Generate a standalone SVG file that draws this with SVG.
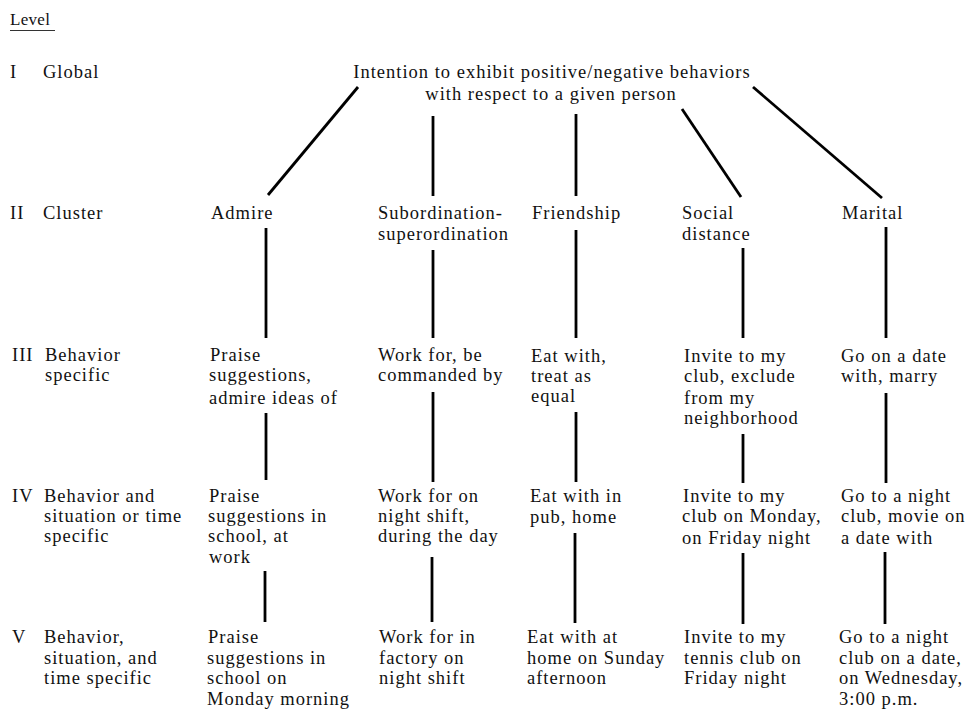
<svg xmlns="http://www.w3.org/2000/svg" width="967" height="709" viewBox="0 0 967 709">
<style>
text { font-family: "Liberation Serif", "Times New Roman", serif; font-size: 18.5px; letter-spacing: 1px; fill: #111; }
.c line { stroke: #000; stroke-width: 2.8; stroke-linecap: butt; }
</style>
<rect width="967" height="709" fill="#fff"/>
<g id="level-labels">
  <text x="10" y="25" style="font-size:17px;letter-spacing:0.3px">Level</text>
  <line x1="10" y1="30.5" x2="55" y2="30.5" stroke="#333" stroke-width="1"/>
  <text x="10" y="78">I</text><text x="43" y="78">Global</text>
  <text x="10" y="219">II</text><text x="43" y="219">Cluster</text>
  <text x="12" y="361">III</text><text x="45" y="361">Behavior</text><text x="45" y="381">specific</text>
  <text x="12" y="502">IV</text><text x="44" y="502">Behavior and</text><text x="44" y="522">situation or time</text><text x="44" y="542">specific</text>
  <text x="12" y="643">V</text><text x="44" y="643">Behavior,</text><text x="44" y="664">situation, and</text><text x="44" y="684">time specific</text>
</g>
<g id="global">
  <text x="552" y="78" text-anchor="middle">Intention to exhibit positive/negative behaviors</text>
  <text x="551" y="100" text-anchor="middle">with respect to a given person</text>
</g>
<g id="cluster-admire"><text x="211" y="219">Admire</text></g>
<g id="cluster-subordination"><text x="378" y="219">Subordination-</text><text x="378" y="240">superordination</text></g>
<g id="cluster-friendship"><text x="532" y="219">Friendship</text></g>
<g id="cluster-social"><text x="682" y="219">Social</text><text x="682" y="240">distance</text></g>
<g id="cluster-marital"><text x="842" y="219">Marital</text></g>

<g id="b3-admire"><text x="210" y="361">Praise</text><text x="209" y="381">suggestions,</text><text x="209" y="404">admire ideas of</text></g>
<g id="b3-subordination"><text x="378" y="361">Work for, be</text><text x="378" y="381">commanded by</text></g>
<g id="b3-friendship"><text x="531" y="362">Eat with,</text><text x="531" y="382">treat as</text><text x="531" y="402">equal</text></g>
<g id="b3-social"><text x="684" y="362">Invite to my</text><text x="684" y="382">club, exclude</text><text x="684" y="404">from my</text><text x="684" y="424">neighborhood</text></g>
<g id="b3-marital"><text x="841" y="362">Go on a date</text><text x="841" y="382">with, marry</text></g>

<g id="b4-admire"><text x="209" y="502">Praise</text><text x="208" y="522">suggestions in</text><text x="208" y="542">school, at</text><text x="209" y="563">work</text></g>
<g id="b4-subordination"><text x="378" y="502">Work for on</text><text x="378" y="522">night shift,</text><text x="378" y="542">during the day</text></g>
<g id="b4-friendship"><text x="530" y="502">Eat with in</text><text x="530" y="523">pub, home</text></g>
<g id="b4-social"><text x="683" y="502">Invite to my</text><text x="682" y="522">club on Monday,</text><text x="682" y="544">on Friday night</text></g>
<g id="b4-marital"><text x="841" y="502">Go to a night</text><text x="841" y="522">club, movie on</text><text x="841" y="544">a date with</text></g>

<g id="b5-admire"><text x="208" y="643">Praise</text><text x="207" y="664">suggestions in</text><text x="207" y="684">school on</text><text x="207" y="705">Monday morning</text></g>
<g id="b5-subordination"><text x="379" y="643">Work for in</text><text x="379" y="664">factory on</text><text x="379" y="684">night shift</text></g>
<g id="b5-friendship"><text x="527" y="643">Eat with at</text><text x="527" y="664">home on Sunday</text><text x="527" y="684">afternoon</text></g>
<g id="b5-social"><text x="684" y="643">Invite to my</text><text x="684" y="664">tennis club on</text><text x="684" y="684">Friday night</text></g>
<g id="b5-marital"><text x="839" y="643">Go to a night</text><text x="839" y="664">club on a date,</text><text x="839" y="684">on Wednesday,</text><text x="839" y="705">3:00 p.m.</text></g>

<g id="connectors" class="c">
  <line x1="358" y1="87" x2="268" y2="195"/>
  <line x1="433" y1="116" x2="433" y2="196"/>
  <line x1="576" y1="114" x2="576" y2="196"/>
  <line x1="682" y1="109" x2="741" y2="197"/>
  <line x1="753" y1="87" x2="882" y2="198"/>

  <line x1="266" y1="228" x2="266" y2="338"/>
  <line x1="433" y1="250" x2="433" y2="338"/>
  <line x1="576" y1="230" x2="576" y2="338"/>
  <line x1="743" y1="248" x2="743" y2="338"/>
  <line x1="886" y1="227" x2="886" y2="338"/>

  <line x1="266" y1="413" x2="266" y2="480"/>
  <line x1="433" y1="392" x2="433" y2="482"/>
  <line x1="576" y1="412" x2="576" y2="482"/>
  <line x1="743" y1="434" x2="743" y2="483"/>
  <line x1="886" y1="393" x2="886" y2="483"/>

  <line x1="265" y1="571" x2="265" y2="622"/>
  <line x1="432" y1="557" x2="432" y2="622"/>
  <line x1="575" y1="533" x2="575" y2="623"/>
  <line x1="743" y1="553" x2="743" y2="624"/>
  <line x1="885" y1="552" x2="885" y2="624"/>
</g>
</svg>
